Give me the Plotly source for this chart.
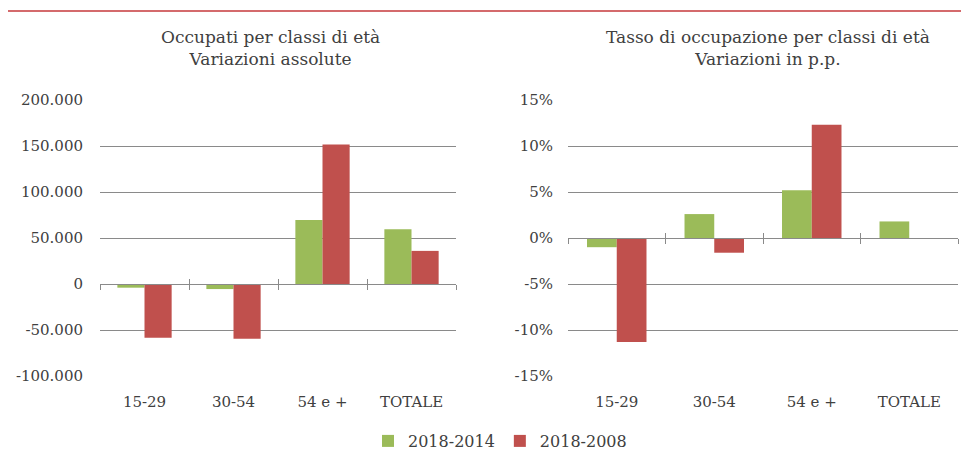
import plotly.graph_objects as go

# Data
categories = ["15-29", "30-54", "54 e +", "TOTALE"]
series_names = ["2018-2014", "2018-2008"]

occupati_2018_2014 = [-4000, -5500, 69500, 59500]
occupati_2018_2008 = [-58500, -59500, 151500, 36000]

tasso_2018_2014 = [-1.0, 2.6, 5.2, 1.8]
tasso_2018_2008 = [-11.3, -1.6, 12.3, 0.0]

left_tickvals = [-100000, -50000, 0, 50000, 100000, 150000, 200000]
left_ticktext = ["-100.000", "-50.000", "0", "50.000", "100.000", "150.000", "200.000"]
right_tickvals = [-15, -10, -5, 0, 5, 10, 15]
right_ticktext = ["-15%", "-10%", "-5%", "0%", "5%", "10%", "15%"]

GREEN = "#9BBB59"
RED = "#C0504D"
GRID = "#8a8a8a"
TEXT = "#404040"
FONT = "DejaVu Serif"

# page body has an 8px margin, so the figure starts at (8, 8)
OFF = 8
W, H = 969 - OFF, 466 - OFF


def fx(px):
    return (px - OFF) / W


def fy(py):
    return 1 - (py - OFF) / H


y_dom = [fy(376), fy(100)]
left_dom = [fx(100), fx(456)]
right_dom = [fx(568), fx(958)]
left_range = [-100000, 200000]
right_range = [-15, 15]


def zero_pos(rng):
    return y_dom[0] + (0 - rng[0]) / (rng[1] - rng[0]) * (y_dom[1] - y_dom[0])


fig = go.Figure()

fig.add_trace(go.Bar(x=categories, y=occupati_2018_2014, name=series_names[0],
                     marker_color=GREEN, xaxis="x", yaxis="y", legendgroup="a"))
fig.add_trace(go.Bar(x=categories, y=occupati_2018_2008, name=series_names[1],
                     marker_color=RED, xaxis="x", yaxis="y", legendgroup="b"))
fig.add_trace(go.Bar(x=categories, y=tasso_2018_2014, name=series_names[0],
                     marker_color=GREEN, xaxis="x2", yaxis="y2", legendgroup="a",
                     showlegend=False))
fig.add_trace(go.Bar(x=categories, y=tasso_2018_2008, name=series_names[1],
                     marker_color=RED, xaxis="x2", yaxis="y2", legendgroup="b",
                     showlegend=False))
fig.update_traces(marker_line_width=0)

# invisible helpers so the zero-line category axes get drawn
tick_positions = [i - 0.5 for i in range(len(categories) + 1)]
for xa, ya in [("x3", "y"), ("x4", "y"), ("x5", "y2"), ("x6", "y2")]:
    fig.add_trace(go.Scatter(x=tick_positions, y=[0] * len(tick_positions),
                             mode="lines", line=dict(width=0), opacity=0,
                             xaxis=xa, yaxis=ya, showlegend=False, hoverinfo="skip"))

common_x = dict(type="category", showline=False, showgrid=False, zeroline=False,
                ticks="", ticklabelstandoff=15, automargin=False,
                tickfont=dict(size=15, color=TEXT))
common_y = dict(showline=False, showgrid=True, gridcolor=GRID, gridwidth=1,
                zeroline=False, ticks="", automargin=False,
                tickfont=dict(size=15, color=TEXT), domain=y_dom)


def tick_axis(overlay, dom, rng, side_ticks):
    return dict(overlaying=overlay, anchor="free", position=zero_pos(rng),
                domain=dom, range=[-0.5, len(categories) - 0.5], type="linear",
                tickvals=tick_positions, ticks=side_ticks, ticklen=5, tickwidth=1,
                tickcolor=GRID, showline=True, linecolor=GRID, linewidth=1,
                showticklabels=False, showgrid=False, zeroline=False, automargin=False)


fig.update_layout(
    width=W, height=H,
    margin=dict(l=0, r=0, t=0, b=0),
    paper_bgcolor="white", plot_bgcolor="white",
    font=dict(family=FONT, color=TEXT, size=15),
    barmode="group", bargap=0.39, bargroupgap=0,
    showlegend=True,
    legend=dict(orientation="h", x=fx(500), xanchor="center", y=fy(441), yanchor="middle",
                font=dict(size=16, color=TEXT), traceorder="normal"),
    xaxis=dict(domain=left_dom, anchor="y", **common_x),
    yaxis=dict(anchor="x", range=left_range, tickvals=left_tickvals,
               ticktext=left_ticktext, ticklabelstandoff=16, **common_y),
    xaxis2=dict(domain=right_dom, anchor="y2", **common_x),
    yaxis2=dict(anchor="x2", range=right_range, tickvals=right_tickvals,
                ticktext=right_ticktext, ticklabelstandoff=14, **common_y),
    xaxis3=tick_axis("x", left_dom, left_range, "outside"),
    xaxis4=tick_axis("x", left_dom, left_range, "inside"),
    xaxis5=tick_axis("x2", right_dom, right_range, "outside"),
    xaxis6=tick_axis("x2", right_dom, right_range, "inside"),
)

# Chart titles
fig.add_annotation(text="Occupati per classi di età<br>Variazioni assolute",
                   x=fx(270), y=fy(48), xref="paper", yref="paper",
                   xanchor="center", yanchor="middle",
                   showarrow=False, font=dict(size=17, color=TEXT), align="center")
fig.add_annotation(text="Tasso di occupazione per classi di età<br>Variazioni in p.p.",
                   x=fx(768), y=fy(48), xref="paper", yref="paper",
                   xanchor="center", yanchor="middle",
                   showarrow=False, font=dict(size=17, color=TEXT), align="center")

# Red rule across the top
fig.add_shape(type="line", xref="paper", yref="paper", x0=-0.01, x1=1.01,
              y0=fy(11), y1=fy(11), line=dict(color="#d46a6c", width=2))

fig.write_html("out.html")
